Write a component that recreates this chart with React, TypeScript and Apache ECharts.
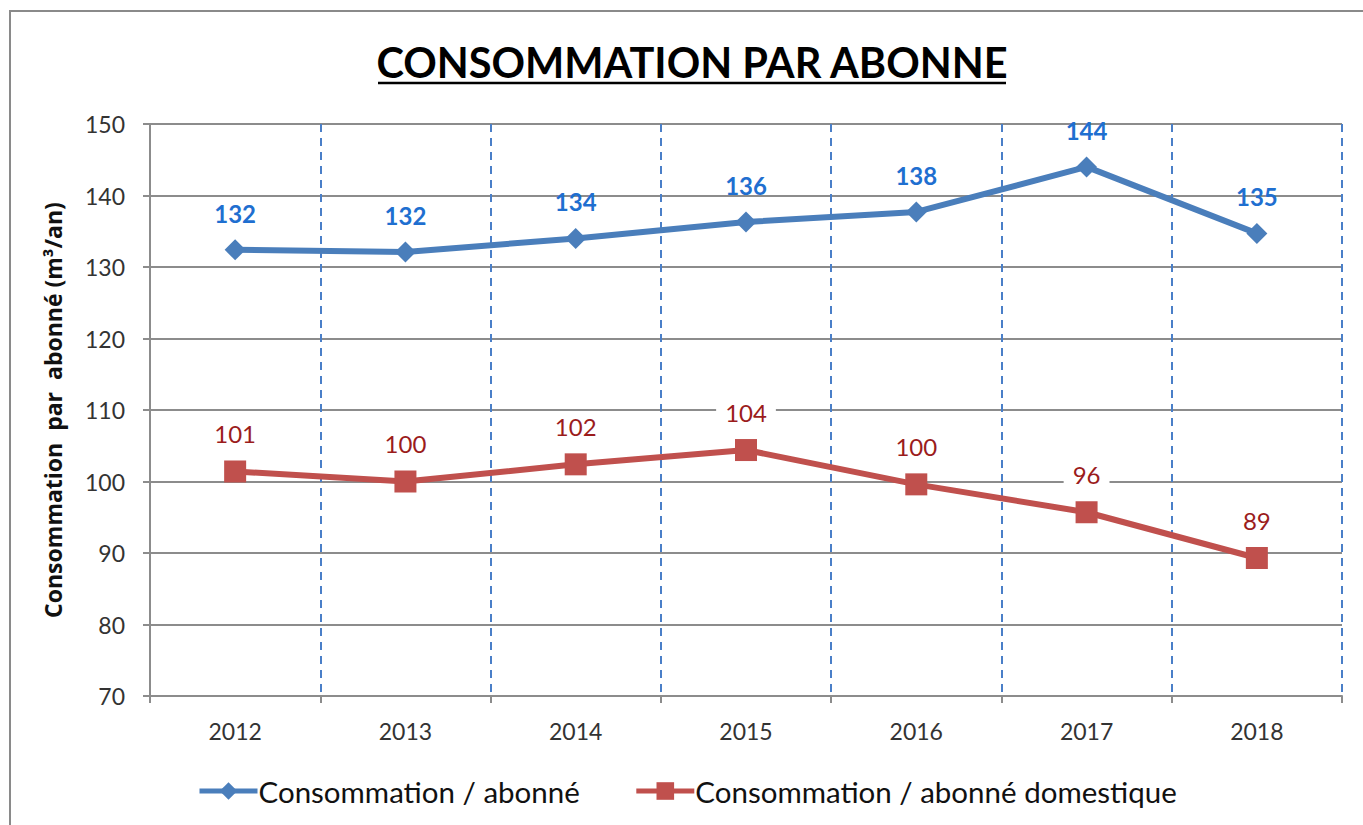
import React, { useEffect, useRef } from "react";
import * as echarts from "echarts";

const years = ["2012", "2013", "2014", "2015", "2016", "2017", "2018"];
const consoAbonne = [132.4, 132.1, 134.0, 136.3, 137.7, 144.0, 134.7];
const consoDomestique = [101.4, 100.0, 102.4, 104.4, 99.6, 95.7, 89.3];
const seriesNames = ["Consommation / abonné", "Consommation / abonné domestique"];
const titleText = "CONSOMMATION PAR ABONNE";
const yAxisName = "Consommation  par  abonné (m³/an)";

const FONT = "Lato, 'Open Sans', sans-serif";
const GRID = "#8c8c8c";

export default function App() {
  const ref = useRef<HTMLDivElement>(null);
  useEffect(() => {
    if (!ref.current) return;
    const chart = echarts.init(ref.current, undefined, { renderer: "svg" });
    chart.setOption({
      animation: false,
      backgroundColor: "#ffffff",
      textStyle: { fontFamily: FONT },
      graphic: [
        {
          type: "rect",
          shape: { x: 10, y: 11, width: 1400, height: 900 },
          style: { fill: "none", stroke: "#8a8a8a", lineWidth: 2 },
          silent: true,
        },
        {
          type: "text",
          x: 692,
          y: 62,
          style: {
            text: titleText,
            fontFamily: FONT,
            fontWeight: "bold",
            fontSize: 41.5,
            fill: "#000",
            textAlign: "center",
            textVerticalAlign: "middle",
          },
        },
        {
          type: "line",
          shape: { x1: 378, y1: 83, x2: 1006, y2: 83 },
          style: { stroke: "#000", lineWidth: 2.5 },
        },
      ],
      legend: {
        left: 197,
        top: 776,
        itemGap: 54,
        itemWidth: 58,
        itemHeight: 22,
        padding: 0,
        lineStyle: { width: 5 },
        textStyle: { fontFamily: FONT, fontSize: 29.5, color: "#111", padding: [0, 0, 0, -4] },
        data: seriesNames,
      },
      grid: { left: 150, right: 21, top: 124, bottom: 129 },
      xAxis: {
        type: "category",
        data: years,
        boundaryGap: true,
        axisLine: { lineStyle: { color: GRID, width: 2 } },
        axisTick: { show: true, length: 7, lineStyle: { color: GRID, width: 2 } },
        axisLabel: { fontFamily: FONT, fontSize: 23, color: "#333", margin: 23 },
        splitLine: {
          show: true,
          lineStyle: { color: "#4a7fc8", width: 2, type: [8, 6] },
        },
      },
      yAxis: {
        type: "value",
        min: 70,
        max: 150,
        interval: 10,
        name: yAxisName,
        nameLocation: "middle",
        nameRotate: 90,
        nameGap: 86,
        nameTextStyle: {
          fontFamily: "'Open Sans', Lato, sans-serif",
          fontSize: 23,
          fontWeight: "bold",
          color: "#111",
        },
        axisLine: { show: true, lineStyle: { color: GRID, width: 2 } },
        axisTick: { show: true, length: 7, lineStyle: { color: GRID, width: 2 } },
        axisLabel: { fontFamily: FONT, fontSize: 23, color: "#333", margin: 25 },
        splitLine: { show: true, lineStyle: { color: GRID, width: 2 } },
      },
      series: [
        {
          name: seriesNames[0],
          type: "line",
          data: consoAbonne,
          symbol: "diamond",
          symbolSize: 21,
          lineStyle: { color: "#4a7ebb", width: 6 },
          itemStyle: { color: "#4a7ebb" },
          z: 3,
          label: {
            show: true,
            position: "top",
            distance: 14,
            formatter: (p: any) => String(Math.round(p.value)),
            fontFamily: FONT,
            fontSize: 24,
            fontWeight: "bold",
            color: "#1f6fd0",
          },
        },
        {
          name: seriesNames[1],
          type: "line",
          data: consoDomestique,
          symbol: "rect",
          symbolSize: 22,
          lineStyle: { color: "#c0504d", width: 6 },
          itemStyle: { color: "#c0504d" },
          z: 3,
          label: {
            show: true,
            position: "top",
            distance: 15,
            formatter: (p: any) => String(Math.round(p.value)),
            fontFamily: FONT,
            fontSize: 24,
            color: "#9b1c1c",
            backgroundColor: "#ffffff",
            padding: [0, 9, 0, 9],
          },
        },
      ],
    });
    return () => chart.dispose();
  }, []);
  return (
    <div
      ref={ref}
      style={{ position: "fixed", left: 0, top: 0, width: 1363, height: 825 }}
    />
  );
}
